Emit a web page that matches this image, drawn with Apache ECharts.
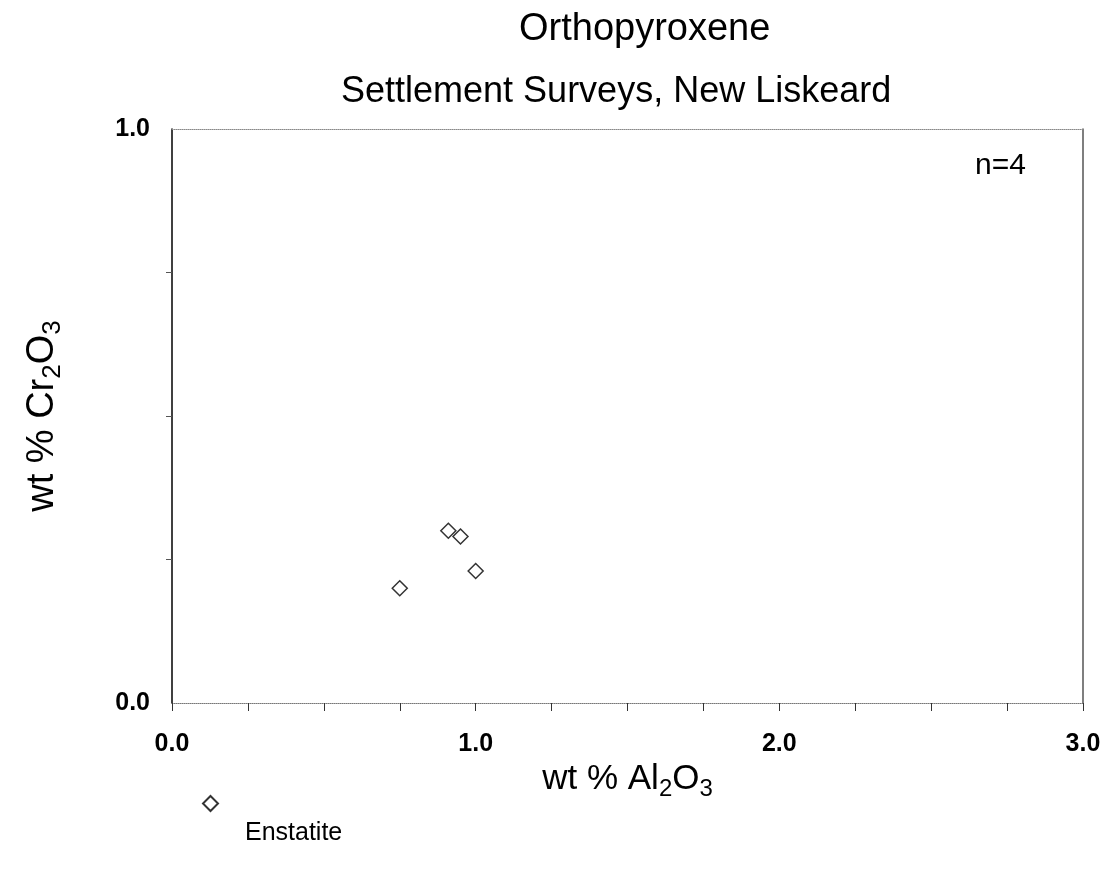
<!DOCTYPE html>
<html>
<head>
<meta charset="utf-8">
<script src="https://cdn.jsdelivr.net/npm/echarts@6/dist/echarts.min.js"></script>
<style>
  html, body { margin: 0; padding: 0; background: #fff; }
  #chart { width: 1104px; height: 878px; }
</style>
</head>
<body>
<div id="chart"></div>
<script>
// Orthopyroxene microprobe analyses (wt %)
const seriesName = 'Enstatite';
const al2o3 = [0.91, 0.95, 1.00, 0.75];
const cr2o3 = [0.30, 0.29, 0.23, 0.20];
const xRange = [0, 3];
const yRange = [0, 1];
const majorStep = 1;

const FONT = '"Liberation Sans", Arial, Helvetica, sans-serif';
const points = al2o3.map((v, i) => [v, cr2o3[i]]);

const chart = echarts.init(document.getElementById('chart'), null, { renderer: 'canvas' });

function subRich(size) {
  return {
    a: { fontFamily: FONT, fontSize: size, color: '#000' },
    s: { fontFamily: FONT, fontSize: Math.round(size * 0.68), color: '#000',
         padding: [Math.round(size * 0.55), 0, 0, 0] }
  };
}

// legend icon: diamond sitting above the label line
const legendIcon = 'path://M7.5,0L15,7.5L7.5,15L0,7.5Z M7.5,75L7.5,75';

const tickLabel = {
  fontFamily: FONT, fontSize: 25, fontWeight: 'bold', color: '#000',
  formatter: v => v.toFixed(1)
};

chart.setOption({
  animation: false,
  backgroundColor: '#fff',
  title: [
    {
      text: 'Orthopyroxene', left: 514, top: 6,
      textStyle: { fontFamily: FONT, fontSize: 38, fontWeight: 'normal', color: '#000' }
    },
    {
      text: 'Settlement Surveys, New Liskeard', left: 336, top: 69,
      textStyle: { fontFamily: FONT, fontSize: 36, fontWeight: 'normal', color: '#000' }
    },
    {
      text: 'n=' + points.length, left: 970, top: 146,
      textStyle: { fontFamily: FONT, fontSize: 30, fontWeight: 'normal', color: '#000' }
    }
  ],
  legend: {
    left: 197, top: 790,
    itemWidth: 15, itemHeight: 75,
    icon: legendIcon,
    data: [seriesName],
    textStyle: { fontFamily: FONT, fontSize: 25, color: '#000', padding: [0, 0, 0, 22] }
  },
  grid: { left: 172, right: 21, top: 129, bottom: 175 },
  xAxis: [
    {
      type: 'value', min: xRange[0], max: xRange[1], interval: majorStep,
      position: 'bottom',
      name: '{a|wt % Al}{s|2}{a|O}{s|3}',
      nameLocation: 'middle', nameGap: 50,
      nameTextStyle: { rich: subRich(35) },
      axisLine: { show: true, onZero: false, lineStyle: { color: '#777', width: 1, type: 'dotted' } },
      axisTick: { show: true, inside: false, length: 8, lineStyle: { color: '#333' } },
      minorTick: { show: true, splitNumber: 4, length: 8, lineStyle: { color: '#333' } },
      axisLabel: Object.assign({ margin: 29 }, tickLabel),
      splitLine: { show: false }
    },
    {
      type: 'value', min: xRange[0], max: xRange[1], interval: majorStep,
      position: 'top',
      axisLine: { show: true, onZero: false, lineStyle: { color: '#888', width: 1, type: 'dotted' } },
      axisTick: { show: false }, axisLabel: { show: false }, splitLine: { show: false }
    }
  ],
  yAxis: [
    {
      type: 'value', min: yRange[0], max: yRange[1], interval: majorStep,
      position: 'left',
      name: '{a|wt % Cr}{s|2}{a|O}{s|3}',
      nameLocation: 'middle', nameGap: 106, nameRotate: 90,
      nameTextStyle: { rich: subRich(38) },
      axisLine: { show: true, onZero: false, lineStyle: { color: '#000', width: 1.5 } },
      axisTick: { show: false },
      minorTick: { show: true, splitNumber: 4, length: 6, lineStyle: { color: '#555' } },
      axisLabel: Object.assign({ margin: 22 }, tickLabel),
      splitLine: { show: false }
    },
    {
      type: 'value', min: yRange[0], max: yRange[1], interval: majorStep,
      position: 'right',
      axisLine: { show: true, onZero: false, lineStyle: { color: '#555', width: 1.5 } },
      axisTick: { show: false }, axisLabel: { show: false }, splitLine: { show: false }
    }
  ],
  series: [
    {
      name: seriesName,
      type: 'scatter',
      xAxisIndex: 0, yAxisIndex: 0,
      symbol: 'diamond', symbolSize: 15,
      itemStyle: { color: '#fff', borderColor: '#000', borderWidth: 1.5 },
      data: points
    }
  ]
});
</script>
</body>
</html>
